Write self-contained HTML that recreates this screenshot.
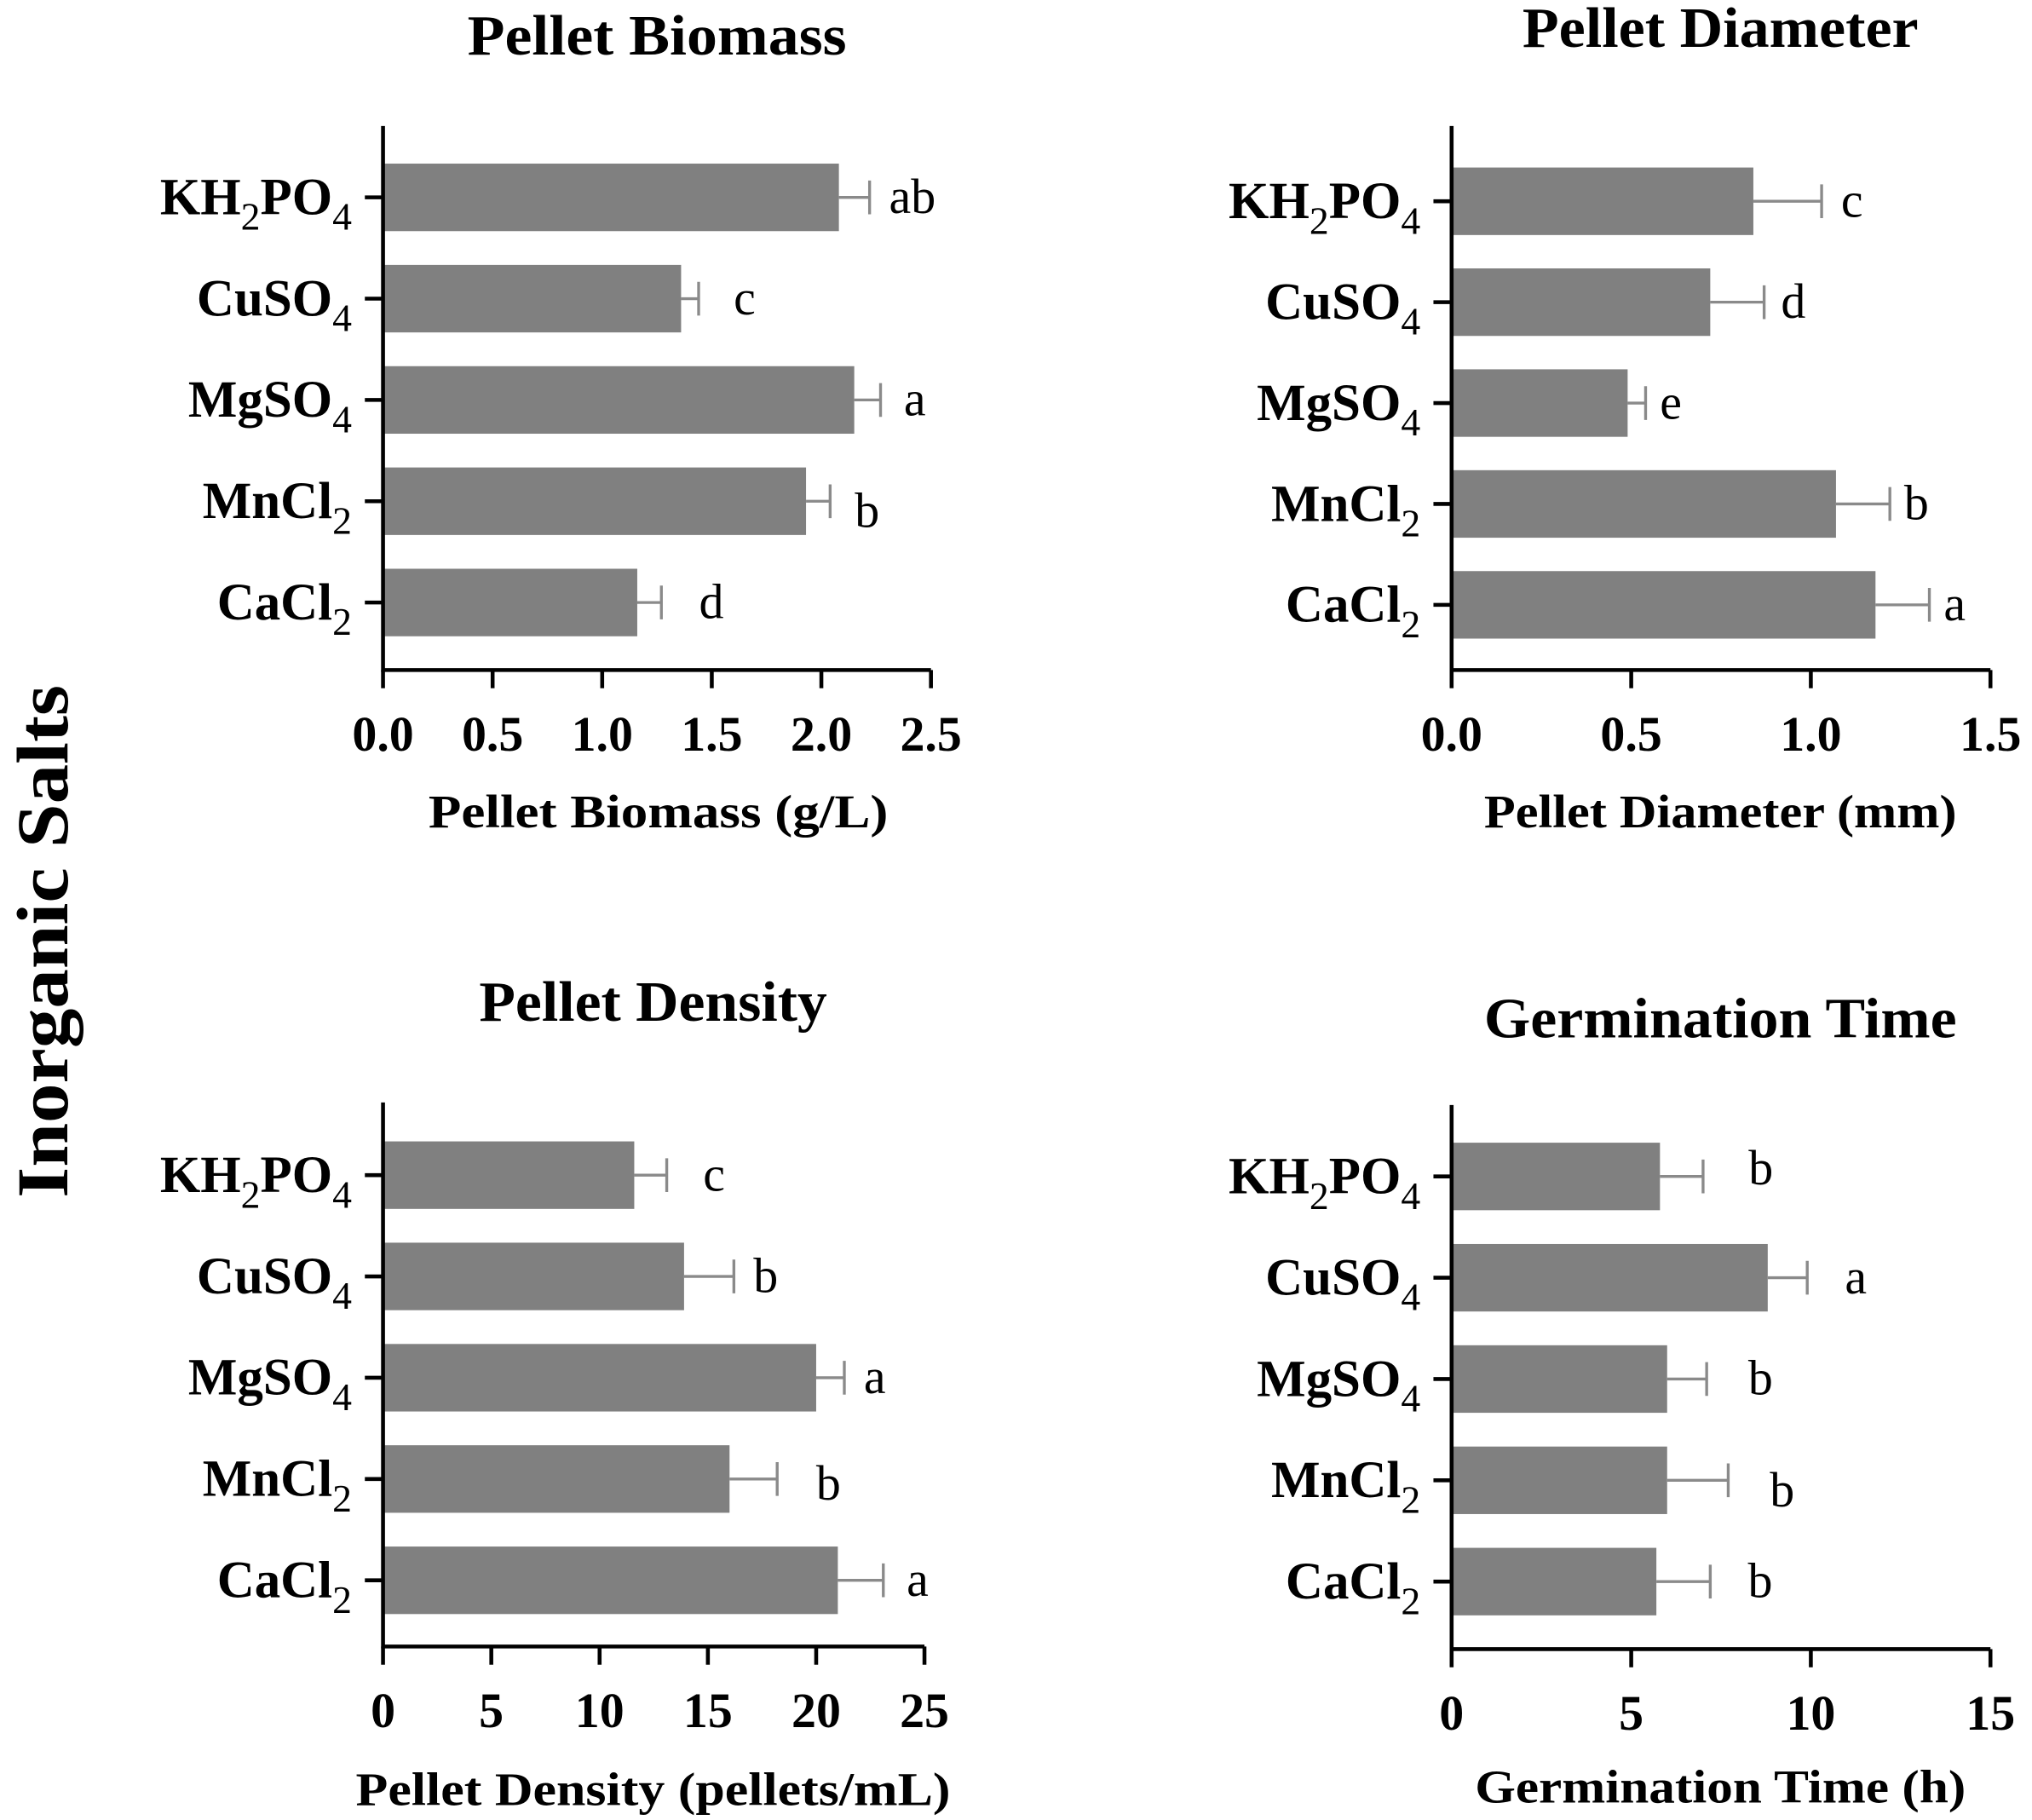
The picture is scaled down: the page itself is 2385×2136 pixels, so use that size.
<!DOCTYPE html>
<html><head><meta charset="utf-8"><style>
html,body{margin:0;padding:0;background:#fff;}
svg{display:block;}
text{font-family:"Liberation Serif",serif;}
</style></head><body>
<svg id="fig" width="2385" height="2136" viewBox="0 0 1565 1401.6" preserveAspectRatio="none" xmlns="http://www.w3.org/2000/svg">
<text x="0" y="0" transform="translate(52,725) rotate(-90)" text-anchor="middle" font-size="56" font-weight="bold" textLength="395" lengthAdjust="spacingAndGlyphs">Inorganic Salts</text>
</svg>
<script>
const categories = [["KH","2","PO","4"],["CuSO","4"],["MgSO","4"],["MnCl","2"],["CaCl","2"]];
const biomassValues = [2.08,1.36,2.15,1.93,1.16];
const biomassErrors = [0.14,0.08,0.12,0.11,0.11];
const biomassLetters = ["ab","c","a","b","d"];
const biomassTicks = ["0.0","0.5","1.0","1.5","2.0","2.5"];
const diameterValues = [0.84,0.72,0.49,1.07,1.18];
const diameterErrors = [0.19,0.15,0.05,0.15,0.15];
const diameterLetters = ["c","d","e","b","a"];
const diameterTicks = ["0.0","0.5","1.0","1.5"];
const densityValues = [11.6,13.9,20.0,16.0,21.0];
const densityErrors = [1.5,2.3,1.3,2.2,2.1];
const densityLetters = ["c","b","a","b","a"];
const densityTicks = ["0","5","10","15","20","25"];
const germValues = [5.8,8.8,6.0,6.0,5.7];
const germErrors = [1.2,1.1,1.1,1.7,1.5];
const germLetters = ["b","a","b","b","b"];
const germTicks = ["0","5","10","15"];

const NS="http://www.w3.org/2000/svg";
const svg=document.getElementById('fig');
function mk(tag,attrs,parent){const e=document.createElementNS(NS,tag);for(const k in attrs)e.setAttribute(k,attrs[k]);(parent||svg).appendChild(e);return e;}

function panel(cfg){
  const g=mk('g',{});
  
  
  const x0=cfg.x0,x1=cfg.x1,yTop=cfg.yTop,yAxis=cfg.yAxis;
  const max=parseFloat(cfg.ticks[cfg.ticks.length-1]);
  const xs=v=>x0+(v/max)*(x1-x0);
  const ys=i=>cfg.y0+i*cfg.step;
  const t=mk('text',{x:cfg.tx,y:cfg.ty,'text-anchor':'middle','font-size':44,'font-weight':'bold',textLength:cfg.tw,lengthAdjust:'spacingAndGlyphs'},g);
  t.textContent=cfg.title;
  
  
  cfg.values.forEach((v,i)=>{
    const yc=ys(i);
    const b=mk('rect',{x:x0,y:yc-26,width:xs(v)-x0,height:52,fill:'#808080'},g);
    
    
    const ex=xs(v+cfg.errors[i]);
    const el=mk('path',{d:`M${xs(v)},${yc}H${ex}M${ex},${yc-13}V${yc+13}`,stroke:'#8a8a8a','stroke-width':2.2,fill:'none'},g);
    
    
    const lt=mk('text',{x:ex+15+(cfg.letterDx[i]||0),y:yc+12+(cfg.letterDy[i]||0),'font-size':38},g);
    lt.textContent=cfg.letters[i];
    
    
    const cl=mk('text',{x:x0-24,y:yc+13,'text-anchor':'end','font-size':40,'font-weight':'bold'},g);
    
    
    const parts=categories[i];
    parts.forEach((p,j)=>{const s=mk('tspan',{},cl);s.textContent=p;
      if(j%2===1){s.setAttribute('font-size','30');s.setAttribute('font-weight','normal');s.setAttribute('dy','12');}
      else if(j>0){s.setAttribute('dy','-12');}});
    mk('line',{x1:x0-14,x2:x0,y1:yc,y2:yc,stroke:'#000','stroke-width':3},g);
  });
  const ax=mk('path',{d:`M${x0},${yTop}V${yAxis}H${x1}`,stroke:'#000','stroke-width':3,fill:'none'},g);
  
  
  cfg.ticks.forEach(tk=>{
    const x=xs(parseFloat(tk));
    mk('line',{x1:x,x2:x,y1:yAxis,y2:yAxis+14,stroke:'#000','stroke-width':3},g);
    const tl=mk('text',{x:x,y:yAxis+62,'text-anchor':'middle','font-size':38,'font-weight':'bold'},g);
    tl.textContent=tk;
    
    
  });
  const at=mk('text',{x:cfg.ax,y:cfg.ay,'text-anchor':'middle','font-size':36,'font-weight':'bold',textLength:cfg.aw,lengthAdjust:'spacingAndGlyphs'},g);
  at.textContent=cfg.axisTitle;
  
  
}
panel({name:'pellet-biomass-chart',title:'Pellet Biomass',tx:506,ty:42,tw:292,x0:295,x1:717,yTop:97,yAxis:516,y0:152,step:78,
  values:biomassValues,errors:biomassErrors,letters:biomassLetters,ticks:biomassTicks,letterDy:[0,0,0,8,0],letterDx:[0,12,3,4,14],
  axisTitle:'Pellet Biomass (g/L)',ax:507,ay:637,aw:354});
panel({name:'pellet-diameter-chart',title:'Pellet Diameter',tx:1325,ty:36,tw:305,x0:1118,x1:1533,yTop:97,yAxis:516,y0:155,step:77.7,
  values:diameterValues,errors:diameterErrors,letters:diameterLetters,ticks:diameterTicks,letterDy:[0,0,0,0,0],letterDx:[0,-2,-4,-4,-4],
  axisTitle:'Pellet Diameter (mm)',ax:1325,ay:637,aw:364});
panel({name:'pellet-density-chart',title:'Pellet Density',tx:503,ty:786,tw:268,x0:295,x1:712,yTop:849,yAxis:1268,y0:905,step:78,
  values:densityValues,errors:densityErrors,letters:densityLetters,ticks:densityTicks,letterDy:[0,0,0,4,0],letterDx:[13,0,0,15,3],
  axisTitle:'Pellet Density (pellets/mL)',ax:503,ay:1390,aw:458});
panel({name:'germination-time-chart',title:'Germination Time',tx:1325,ty:799,tw:364,x0:1118,x1:1533,yTop:851,yAxis:1270,y0:906,step:78,
  values:germValues,errors:germErrors,letters:germLetters,ticks:germTicks,letterDy:[-6,0,0,8,0],letterDx:[20,14,17,17,14],
  axisTitle:'Germination Time (h)',ax:1325,ay:1388,aw:378});
</script>
</body></html>
